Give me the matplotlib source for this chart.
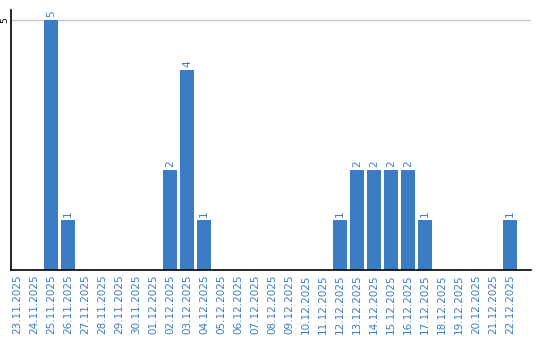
import matplotlib.pyplot as plt

dates = ["23.11.2025", "24.11.2025", "25.11.2025", "26.11.2025", "27.11.2025",
         "28.11.2025", "29.11.2025", "30.11.2025", "01.12.2025", "02.12.2025",
         "03.12.2025", "04.12.2025", "05.12.2025", "06.12.2025", "07.12.2025",
         "08.12.2025", "09.12.2025", "10.12.2025", "11.12.2025", "12.12.2025",
         "13.12.2025", "14.12.2025", "15.12.2025", "16.12.2025", "17.12.2025",
         "18.12.2025", "19.12.2025", "20.12.2025", "21.12.2025", "22.12.2025"]
counts = [0, 0, 5, 1, 0, 0, 0, 0, 0, 2,
          4, 1, 0, 0, 0, 0, 0, 0, 0, 1,
          2, 2, 2, 2, 1, 0, 0, 0, 0, 1]

blue = "#3b7dc4"

fig = plt.figure(figsize=(5.4, 3.4), dpi=100)
ax = fig.add_axes([0.0195, 0.206, 0.963, 0.765])

x = range(len(dates))
ax.bar(x, counts, width=0.82, color=blue, zorder=2)
for xi, v in zip(x, counts):
    if v > 0:
        ax.text(xi, v + 0.06, str(v), rotation=90, ha="center", va="bottom",
                color=blue, fontsize=7.5)

# plot area runs a bit past the last day on the right
ax.set_xlim(-0.38, 30.2)
ax.set_ylim(0, 5.2)
ax.set_xticks(list(x))
ax.set_xticklabels(dates, rotation=90, color=blue, fontsize=7.5)
ax.set_yticks([5])
ax.set_yticklabels(["5"], rotation=90, fontsize=6.5, va="center")
ax.tick_params(axis="x", length=0, pad=3)
ax.tick_params(axis="y", length=0, pad=1)
ax.axhline(5, color="#c8c8c8", lw=1, zorder=1)
ax.spines["top"].set_visible(False)
ax.spines["right"].set_visible(False)
ax.spines["left"].set_linewidth(1.2)
ax.spines["bottom"].set_linewidth(1.2)

plt.savefig("out.png")
plt.close()
